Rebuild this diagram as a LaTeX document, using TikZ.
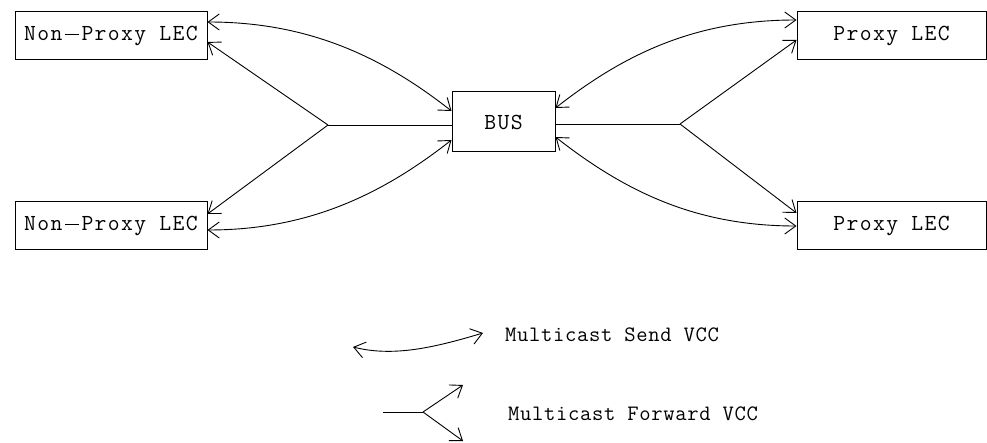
\documentclass[tikz,border=0pt]{standalone}
\usepackage{fontspec}
\newfontfamily\boxfont{Latin Modern Mono}[LetterSpace=6]
\newfontfamily\legfont{Latin Modern Mono}[LetterSpace=3]
\usetikzlibrary{arrows.meta}
\newcommand{\mnus}{\makebox[19pt]{\rule[6pt]{14pt}{0.9pt}}}
\begin{document}
\begin{tikzpicture}[x=1pt,y=-1pt,
  box/.style={draw,line width=1pt,inner sep=0pt,font=\boxfont\fontsize{23}{27}\selectfont},
  legend/.style={inner sep=0pt,font=\legfont\fontsize{22}{26}\selectfont},
  conn/.style={line width=0.9pt},
  >={Straight Barb[length=11pt,width=16pt]}]
\useasboundingbox (0,0) rectangle (987,443);
\node[box,minimum width=192pt,minimum height=48pt] (np1) at (111,36) {Non\mnus Proxy LEC};
\node[box,minimum width=192pt,minimum height=48pt] (np2) at (111,226) {Non\mnus Proxy LEC};
\node[box,minimum width=103pt,minimum height=60pt] (bus) at (503.5,122) {BUS};
\node[box,minimum width=189pt,minimum height=48pt] (p1) at (891.5,36) {Proxy LEC};
\node[box,minimum width=189pt,minimum height=48pt] (p2) at (891.5,226) {Proxy LEC};
\coordinate (fl) at (328,125);
\coordinate (fr) at (680,124);
\draw[conn] (fl) -- (fl -| bus.west);
\draw[conn,->] (fl) -- ([yshift=-6pt]np1.east);
\draw[conn,->] (fl) -- ([yshift=12pt]np2.east);
\draw[conn] (fr -| bus.east) -- (fr);
\draw[conn,->] (fr) -- ([yshift=-4pt]p1.west);
\draw[conn,->] (fr) -- ([yshift=13pt]p2.west);
\draw[conn,<->] ([yshift=14pt]np1.east) .. controls +(100,0) and +(-70,-55) .. ([yshift=11pt]bus.west);
\draw[conn,<->] ([yshift=-4pt]np2.east) .. controls +(100,0) and +(-70,55) .. ([yshift=-18pt]bus.west);
\draw[conn,<->] ([yshift=14pt]bus.east) .. controls +(70,-55) and +(-100,0) .. ([yshift=16pt]p1.west);
\draw[conn,<->] ([yshift=-15pt]bus.east) .. controls +(70,55) and +(-100,0) .. (p2.west);
\coordinate (sa) at (353,347);
\coordinate (sb) at (483,333);
\draw[conn,<->] (sa) .. controls +(40,10) and +(-50,15) .. (sb);
\node[legend,anchor=west] (st) at (505,335) {Multicast Send VCC};
\coordinate (f0) at (383,412);
\coordinate (fk) at (423,412);
\coordinate (fa) at (463,385);
\coordinate (fb) at (463,441);
\draw[conn] (f0) -- (fk);
\draw[conn,->] (fk) -- (fa);
\draw[conn,->] (fk) -- (fb);
\node[legend,anchor=west] (ft) at (508,414) {Multicast Forward VCC};
\end{tikzpicture}
\end{document}
